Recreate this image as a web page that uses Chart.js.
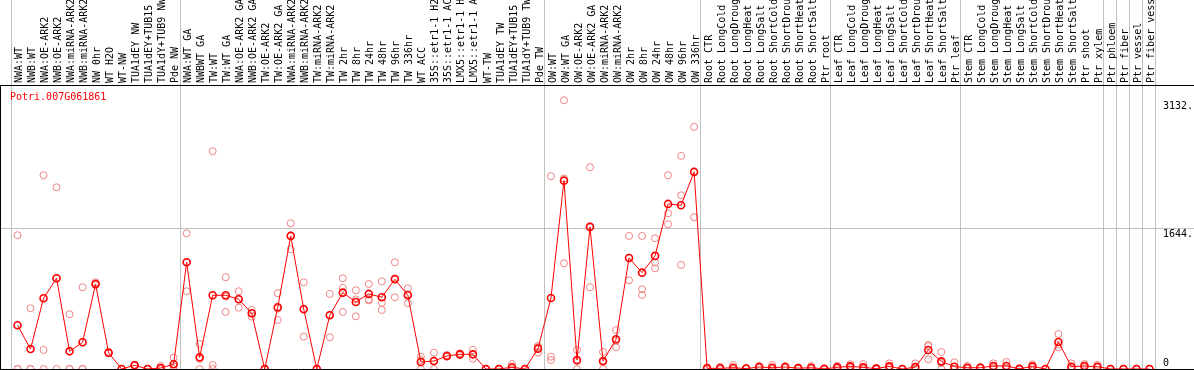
<!DOCTYPE html>
<html>
<head>
<meta charset="utf-8">
<script src="https://cdn.jsdelivr.net/npm/chart.js@4.4.1/dist/chart.umd.min.js"></script>
<style>
  html, body { margin: 0; padding: 0; background: #fff; }
  #wrap { width: 1194px; height: 370px; }
</style>
</head>
<body>
<div id="wrap"><canvas id="expr-chart" width="1194" height="370"></canvas></div>
<script>
// gene shown in the corner
var geneName = 'Potri.007G061861';

// sample names, left to right
var categories = [
    'NWA:WT', 'NWB:WT', 'NWA:OE-ARK2', 'NWB:OE-ARK2', 'NWA:miRNA-ARK2', 'NWB:miRNA-ARK2', 'NW 0hr', 'WT H2O', 'WT-NW',
    'TUA1dEY NW', 'TUA1dEY+TUB15 NW', 'TUA1dY+TUB9 NW', 'Pde NW',
    'NWA:WT GA', 'NWBWT GA', 'TW:WT', 'TW:WT GA', 'NWA:OE-ARK2 GA', 'NWB:OE-ARK2 GA', 'TW:OE-ARK2', 'TW:OE-ARK2 GA',
    'NWA:miRNA-ARK2 GA', 'NWB:miRNA-ARK2 GA', 'TW:miRNA-ARK2', 'TW:miRNA-ARK2 GA',
    'TW 2hr', 'TW 8hr', 'TW 24hr', 'TW 48hr', 'TW 96hr', 'TW 336hr', 'WT ACC',
    '35S::etr1-1 H2O', '35S::etr1-1 ACC', 'LMX5::etr1-1 H2O', 'LMX5::etr1-1 ACC',
    'WT-TW', 'TUA1dEY TW', 'TUA1dEY+TUB15 TW', 'TUA1dY+TUB9 TW', 'Pde TW',
    'OW:WT', 'OW:WT GA', 'OW:OE-ARK2', 'OW:OE-ARK2 GA', 'OW:miRNA-ARK2', 'OW:miRNA-ARK2 GA',
    'OW 2hr', 'OW 8hr', 'OW 24hr', 'OW 48hr', 'OW 96hr', 'OW 336hr',
    'Root CTR', 'Root LongCold', 'Root LongDrought', 'Root LongHeat', 'Root LongSalt',
    'Root ShortCold', 'Root ShortDrought', 'Root ShortHeat', 'Root ShortSalt', 'Ptr root',
    'Leaf CTR', 'Leaf LongCold', 'Leaf LongDrought', 'Leaf LongHeat', 'Leaf LongSalt',
    'Leaf ShortCold', 'Leaf ShortDrought', 'Leaf ShortHeat', 'Leaf ShortSalt', 'Ptr leaf',
    'Stem CTR', 'Stem LongCold', 'Stem LongDrought', 'Stem LongHeat', 'Stem LongSalt',
    'Stem ShortCold', 'Stem ShortDrought', 'Stem ShortHeat', 'Stem ShortSalt', 'Ptr shoot', 'Ptr xylem',
    'Ptr phloem', 'Ptr fiber', 'Ptr vessel', 'Ptr fiber vessel'
];

// how many samples sit in each block between the grey separators
var groupSizes = [13, 28, 12, 10, 10, 11, 1, 1, 1, 1];

// mean expression (red line)
var meanValues = [
    510, 233, 824, 1058, 206, 311, 991, 190, 0, 43, 0, 12, 55,
    1244, 136, 859, 859, 813, 649, 0, 719, 1551, 696, 0, 626, 890, 781, 875, 836, 1046, 859, 82, 93, 152, 171, 171, 0, 0, 20, 0, 237,
    828, 2195, 105, 1656, 93, 346, 1294, 1123, 1318, 1924, 1908, 2297,
    8, 8, 15, 5, 23, 15, 23, 10, 15, 2,
    19, 31, 19, 4, 31, 0, 22, 222, 89, 27,
    15, 15, 35, 35, 2, 31, 0, 315, 27, 35, 27,
    0, 0, 0, 0
];

// replicates (pink circles)
var rep1 = [
    1559, 708, 2258, 2118, 638, 953, 1010, 200, 0, 50, 0, 35, 132,
    1582, 292, 2538, 1069, 906, 688, 0, 883, 1699, 1011, 0, 875, 1058, 918, 991, 1022, 1244, 941, 143, 190, 163, 183, 222, 0, 0, 58, 0, 268,
    2247, 3132, 222, 2352, 198, 455, 1551, 1551, 1524, 2258, 2484, 2822,
    20, 25, 47, 10, 37, 47, 35, 18, 35, 5,
    37, 55, 58, 12, 66, 0, 66, 280, 198, 78,
    35, 25, 66, 82, 5, 55, 0, 408, 66, 58, 47,
    0, 0, 0, 0
];
var rep2 = [
    0, 0, 222, 1058, 0, 0, 985, 185, 0, 45, 0, 0, 30,
    906, 0, 47, 665, 715, 610, 0, 571, 1396, 377, 0, 370, 946, 614, 813, 773, 836, 766, 0, 0, 150, 170, 120, 0, 0, 0, 0, 253,
    143, 1232, 0, 953, 0, 253, 1034, 929, 1240, 1815, 2025, 1769,
    0, 0, 0, 5, 20, 0, 20, 8, 10, 0,
    20, 25, 0, 0, 15, 0, 0, 267, 0, 0,
    10, 12, 25, 15, 0, 25, 0, 253, 10, 30, 20,
    0, 0, 0, 0
];
var rep3 = [
    0, 0, 0, 0, 0, 0, 978, 185, 0, 35, 0, 0, 0,
    1244, 116, 0, 843, 818, 649, 0, 703, 1558, 700, 0, 633, 665, 811, 800, 688, 1058, 870, 103, 89, 143, 160, 171, 0, 0, 0, 0, 190,
    105, 2220, 93, 1663, 81, 330, 1297, 863, 1174, 1687, 1213, 2300,
    0, 0, 0, 0, 12, 0, 14, 4, 0, 0,
    0, 13, 0, 0, 12, 0, 0, 113, 70, 0,
    0, 8, 14, 8, 0, 13, 0, 284, 5, 17, 14,
    0, 0, 0, 0
];

// y axis
var yMax = 3310;
var yTickValues = [0, 1644, 3132];
var yTickLabels = ['0', '1644.', '3132.'];

var monoFont = { family: '"DejaVu Sans Mono", monospace', size: 10 };
var gridGrey = '#c0c0c0';
var repColor = 'rgb(238,130,130)';

// category indices where a separator line goes
var groupEdges = [0];
groupSizes.forEach(function(n) { groupEdges.push(groupEdges[groupEdges.length - 1] + n); });

// frame lines and the full-width rule, plus the gene name
var framePlugin = {
    id: 'frame',
    beforeDatasetsDraw: function(chart) {
        var ctx = chart.ctx, area = chart.chartArea, w = chart.width;
        var y = chart.scales.y;
        ctx.save();
        ctx.lineWidth = 1;
        ctx.strokeStyle = gridGrey;
        yTickValues.forEach(function(v) {
            if (v !== 1644) return;
            var py = Math.round(y.getPixelForValue(v)) + 0.5;
            ctx.beginPath(); ctx.moveTo(0, py); ctx.lineTo(w, py); ctx.stroke();
        });
        ctx.strokeStyle = '#000';
        ctx.beginPath();
        ctx.moveTo(0, area.top + 0.5); ctx.lineTo(w, area.top + 0.5);
        ctx.moveTo(0, area.bottom + 0.5); ctx.lineTo(w, area.bottom + 0.5);
        ctx.moveTo(0.5, area.top); ctx.lineTo(0.5, chart.height);
        ctx.stroke();
        ctx.restore();
    },
    afterDraw: function(chart) {
        var ctx = chart.ctx, area = chart.chartArea;
        ctx.save();
        ctx.fillStyle = '#ff0000';
        ctx.font = '10px "DejaVu Sans Mono", monospace';
        ctx.textBaseline = 'middle';
        ctx.fillText(geneName, area.left - 1, area.top + 12);
        ctx.restore();
    }
};

function repSet(values) {
    return {
        data: values,
        showLine: false,
        pointRadius: 3.5,
        pointBorderWidth: 1,
        pointBorderColor: repColor,
        pointBackgroundColor: 'transparent',
        order: 1
    };
}

new Chart(document.getElementById('expr-chart').getContext('2d'), {
    type: 'line',
    data: {
        labels: categories,
        datasets: [{
            label: geneName,
            data: meanValues,
            borderColor: '#ff0000',
            borderWidth: 1,
            pointRadius: 3.5,
            pointBorderWidth: 1.6,
            pointBorderColor: '#ff0000',
            pointBackgroundColor: 'transparent',
            tension: 0,
            order: 0
        }, repSet(rep1), repSet(rep2), repSet(rep3)]
    },
    options: {
        responsive: false,
        animation: false,
        devicePixelRatio: 1,
        layout: { autoPadding: false, padding: { left: 11, bottom: 1, top: 0, right: 0 } },
        plugins: { legend: { display: false }, tooltip: { enabled: false }, title: { display: false } },
        scales: {
            x: {
                type: 'category',
                position: 'top',
                offset: true,
                afterFit: function(scale) {
                    scale.height = 85;
                    scale.paddingLeft = 0;
                    scale.paddingRight = 0;
                },
                grid: {
                    offset: true,
                    drawOnChartArea: true,
                    drawTicks: true,
                    tickLength: 85,
                    lineWidth: 1,
                    color: function(c) {
                        if (c.type !== 'tick') return gridGrey;
                        return groupEdges.indexOf(c.index) >= 0 ? gridGrey : 'rgba(0,0,0,0)';
                    }
                },
                border: { display: false },
                ticks: {
                    autoSkip: false,
                    minRotation: 90,
                    maxRotation: 90,
                    padding: -83,
                    labelOffset: 14,
                    color: '#000',
                    font: monoFont
                }
            },
            y: {
                position: 'right',
                min: 0,
                max: yMax,
                afterBuildTicks: function(scale) {
                    scale.ticks = yTickValues.map(function(v) { return { value: v }; });
                },
                afterFit: function(scale) {
                    scale.width = 38;
                    scale.paddingTop = 0;
                    scale.paddingBottom = 0;
                },
                grid: { display: false, drawTicks: false },
                border: { display: false },
                ticks: {
                    padding: 7,
                    color: '#000',
                    font: monoFont,
                    callback: function(value, i) {
                        return i === 0 ? [yTickLabels[i], ''] : ['', yTickLabels[i]];
                    }
                }
            }
        }
    },
    plugins: [framePlugin]
});
</script>
</body>
</html>
